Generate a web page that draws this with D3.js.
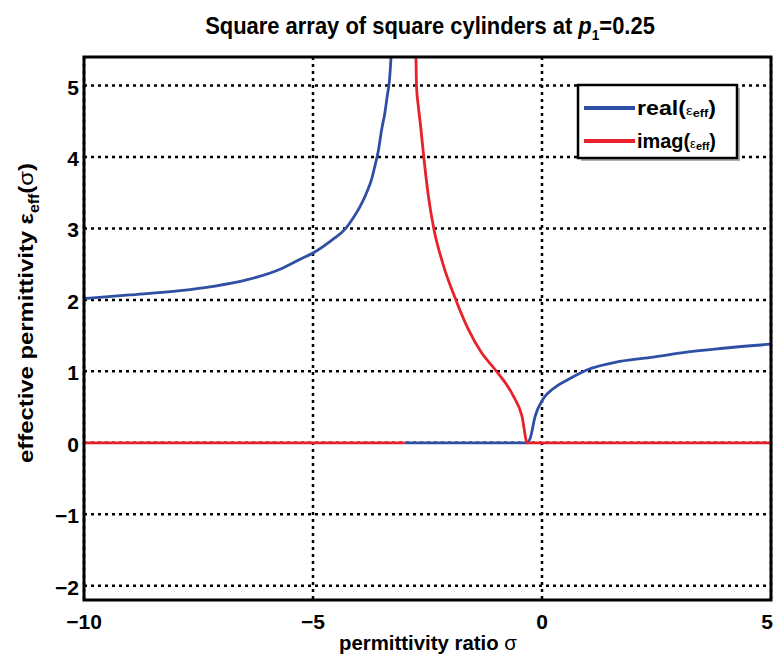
<!DOCTYPE html>
<html>
<head>
<meta charset="utf-8">
<script src="https://cdn.jsdelivr.net/npm/d3@7"></script>
<style>
  body { margin: 0; background: #fff; }
  text { font-family: "Liberation Sans", Arial, sans-serif; font-weight: bold; }
</style>
</head>
<body>
<div id="chart"></div>
<script>
// sigma values and curves (null = gap)
var realSigma = [-10, -9, -7.9, -7.18, -6.45, -5.72, -5.28, -4.99, -4.56, -4.3, -4.12, -3.97, -3.83, -3.72, -3.65,
                 -3.57, -3.5, -3.43, -3.38, -3.33, -3.3, -3.26,
                 null,
                 -3, -1.5, -0.32, -0.26, -0.15, 0.03, 0.25, 0.61, 0.98, 1.7, 2.43, 3.16, 3.89, 5];
var realVals  = [2.02, 2.07, 2.13, 2.19, 2.28, 2.43, 2.57, 2.66, 2.85, 2.99, 3.15, 3.31, 3.5, 3.69, 3.87,
                 4.1, 4.39, 4.62, 4.85, 5.08, 5.36, 6.0,
                 null,
                 0, 0, 0, 0.06, 0.37, 0.62, 0.76, 0.9, 1.02, 1.14, 1.2, 1.27, 1.32, 1.38];

var imagSigma = [-10, -3,
                 null,
                 -2.76, -2.74, -2.7, -2.65, -2.58, -2.48, -2.36, -2.17, -1.88, -1.61, -1.32, -1.03, -0.63, -0.44, -0.32, 5];
var imagVals  = [0, 0,
                 null,
                 5.9, 4.99, 4.71, 4.43, 3.99, 3.45, 2.99, 2.52, 2.0, 1.59, 1.26, 1.03, 0.66, 0.38, 0, 0];

var xTicks = [-10, -5, 0, 5];
var yTicks = [-2, -1, 0, 1, 2, 3, 4, 5];

var width = 774, height = 655;
var margin = {left: 84, right: 3, top: 57, bottom: 55};
var pw = width - margin.left - margin.right;
var ph = height - margin.top - margin.bottom;

var svg = d3.select('#chart').append('svg')
    .attr('width', width)
    .attr('height', height);

var x = d3.scaleLinear().domain([-10, 5]).range([0, pw]);
var y = d3.scaleLinear().domain([-2.2, 5.4]).range([ph, 0]);

var g = svg.append('g')
    .attr('transform', 'translate(' + margin.left + ',' + margin.top + ')');

g.append('clipPath').attr('id', 'clip')
  .append('rect').attr('width', pw).attr('height', ph);

// dotted grid
g.selectAll('.hgrid').data(yTicks).enter().append('line')
    .attr('x1', 0).attr('x2', pw)
    .attr('y1', function(d) { return y(d); })
    .attr('y2', function(d) { return y(d); })
    .attr('stroke', '#000').attr('stroke-width', 2.5)
    .attr('stroke-dasharray', '3,4');
g.selectAll('.vgrid').data(xTicks).enter().append('line')
    .attr('y1', 0).attr('y2', ph)
    .attr('x1', function(d) { return x(d); })
    .attr('x2', function(d) { return x(d); })
    .attr('stroke', '#000').attr('stroke-width', 2.5)
    .attr('stroke-dasharray', '3,4');

function toPts(xs, ys) {
    return xs.map(function(s, i) { return [s, ys[i]]; });
}

var line = d3.line()
    .defined(function(d) { return d[0] !== null && d[1] !== null; })
    .x(function(d) { return x(d[0]); })
    .y(function(d) { return y(d[1]); })
    .curve(d3.curveMonotoneX);

var curves = g.append('g').attr('clip-path', 'url(#clip)');
curves.append('path')
    .attr('d', line(toPts(realSigma, realVals)))
    .attr('fill', 'none').attr('stroke', '#2e4fa3').attr('stroke-width', 2.8);
curves.append('path')
    .attr('d', line(toPts(imagSigma, imagVals)))
    .attr('fill', 'none').attr('stroke', '#e8212a').attr('stroke-width', 2.8);

// axes box
g.append('rect')
    .attr('width', pw).attr('height', ph)
    .attr('fill', 'none').attr('stroke', '#000').attr('stroke-width', 3);

function fmt(d) { return d < 0 ? '\u2212' + Math.abs(d) : d; }

// tick labels
g.selectAll('.xt').data(xTicks).enter().append('text')
    .attr('x', function(d, i) { return i === xTicks.length - 1 ? pw + 2 : x(d); })
    .attr('y', ph + 29)
    .attr('text-anchor', function(d, i) { return i === xTicks.length - 1 ? 'end' : 'middle'; })
    .style('font-size', '21px')
    .text(fmt);
g.selectAll('.yt').data(yTicks).enter().append('text')
    .attr('x', -5)
    .attr('y', function(d) { return y(d) + 9; })
    .attr('text-anchor', 'end')
    .style('font-size', '21px')
    .text(fmt);

// squeeze a centred text horizontally to a target width
function fitWidth(sel, cx, target) {
    var w = sel.node().getBBox().width;
    var k = target / w;
    sel.attr('transform', 'translate(' + cx + ',0) scale(' + k + ',1) translate(' + (-cx) + ',0)');
}

// title
var title = svg.append('text')
    .attr('x', 430)
    .attr('y', 34)
    .attr('text-anchor', 'middle')
    .style('font-size', '24px');
title.append('tspan').text('Square array of square cylinders at ');
title.append('tspan').style('font-style', 'italic').text('p');
title.append('tspan').attr('dy', 6).style('font-size', '15px').text('1');
title.append('tspan').attr('dy', -6).text('=0.25');
fitWidth(title, 430, 450);

// axis labels
var xl = svg.append('text')
    .attr('x', 428)
    .attr('y', 650)
    .attr('text-anchor', 'middle')
    .style('font-size', '21px');
xl.append('tspan').text('permittivity ratio ');
xl.append('tspan').style('font-weight', 'normal').text('\u03c3');
fitWidth(xl, 428, 178);

var yl = svg.append('text')
    .attr('text-anchor', 'middle')
    .style('font-size', '21px');
yl.append('tspan').text('effective permittivity \u03b5');
yl.append('tspan').attr('dy', 6).style('font-size', '14px').text('eff');
yl.append('tspan').attr('dy', -6).text('(');
yl.append('tspan').style('font-weight', 'normal').text('\u03c3');
yl.append('tspan').text(')');
var ylw = yl.node().getBBox().width;
yl.attr('transform', 'translate(33,313) rotate(-90) scale(' + (300 / ylw) + ',1)');

// legend
var lx = 578, ly = 85, lw = 159, lh = 73;
svg.append('rect')
    .attr('x', lx + 3).attr('y', ly + 3).attr('width', lw).attr('height', lh)
    .attr('fill', '#b0b0b0');
svg.append('rect')
    .attr('x', lx).attr('y', ly).attr('width', lw).attr('height', lh)
    .attr('fill', '#fff').attr('stroke', '#000').attr('stroke-width', 2.5);

var legendItems = [
    {name: 'real', color: '#2e4fa3'},
    {name: 'imag', color: '#e8212a'}
];
legendItems.forEach(function(d, i) {
    var yy = ly + 23 + i * 33;
    svg.append('line')
        .attr('x1', lx + 6).attr('x2', lx + 57)
        .attr('y1', yy).attr('y2', yy)
        .attr('stroke', d.color).attr('stroke-width', 4);
    var t = svg.append('text')
        .attr('x', lx + 59).attr('y', yy + 7)
        .style('font-size', '20px');
    t.append('tspan').text(d.name + '(');
    t.append('tspan').style('font-size', '13px').style('font-weight', 'normal').text('\u03b5');
    t.append('tspan').attr('dy', 2).style('font-size', '11px').text('eff');
    t.append('tspan').attr('dy', -2).text(')');
    var tw = t.node().getBBox().width;
    var sx = lx + 59;
    t.attr('transform', 'translate(' + sx + ',0) scale(' + (79 / tw) + ',1) translate(' + (-sx) + ',0)');
});
</script>
</body>
</html>
